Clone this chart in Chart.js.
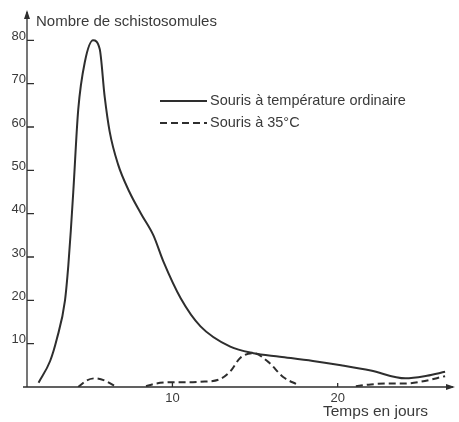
<!DOCTYPE html>
<html>
<head>
<meta charset="utf-8">
<script src="https://cdn.jsdelivr.net/npm/chart.js@4.4.0/dist/chart.umd.min.js"></script>
<style>
    html, body { margin: 0; padding: 0; background: #fff; }
    #wrap { width: 459px; height: 422px; }
</style>
</head>
<body>
<div id="wrap"><canvas id="schistoChart" width="459" height="422"></canvas></div>
<script>
// solid curve: mice kept at ordinary temperature
const normalDays = [1.9, 2.6, 3.0, 3.5, 3.7, 3.85, 4.0, 4.3, 4.7, 5.2, 5.6, 5.9, 6.2, 6.7, 7.4, 8.1, 8.85, 9.45, 10.5, 11.7, 13.5, 14.9, 16.5, 18.5, 20.2, 22.0, 24.1, 25.4, 26.5]
const normalValues = [1, 6, 11, 20, 28, 36, 45, 64, 75, 80, 78, 67, 59, 51.5, 45, 40, 35, 29, 20.5, 14, 9.3, 7.8, 7, 6, 5, 3.8, 2, 2.6, 3.5]
// dashed curve: mice at 35°C (null breaks the line)
const hotDays = [4.3, 4.8, 5.3, 5.9, 6.6, 7.5, 8.4, 9.0, 10.0, 11.0, 11.7, 12.8, 13.5, 14.1, 14.9, 15.8, 16.7, 17.6, 19.5, 21.1, 22.0, 23.0, 24.0, 25.0, 26.5]
const hotValues = [0, 1.5, 2, 1.5, 0, null, 0.2, 0.8, 1.1, 1.1, 1.2, 1.7, 3.6, 6.7, 7.8, 5.8, 2.3, 0.5, null, 0.2, 0.6, 0.8, 0.8, 1.2, 2.5]
//
const yTickValues = [10, 20, 30, 40, 50, 60, 70, 80]
const xTickValues = [10, 20]
const seriesLabels = [`Souris à température ordinaire`, `Souris à 35°C`]
const yTitle = `Nombre de schistosomules`
const xTitle = `Temps en jours`
//
const ink = `#2e2e2e`
const textInk = `#3a3a3a`
const font = `"Liberation Sans", Arial, sans-serif`
const hotDash = [7, 4]

function toPoints(days, values) {
    return days.map((d, i) => ({ x: d, y: values[i] }))
}
//
const sketchAxes = {
    id: `sketchAxes`,
    afterDraw(chart) {
        const { ctx, chartArea } = chart
        const xs = chart.scales.x
        const ys = chart.scales.y
        const x0 = chartArea.left
        const y0 = chartArea.bottom
        ctx.save()
        ctx.strokeStyle = ink
        ctx.fillStyle = ink
        ctx.lineWidth = 1.3
        // axes
        ctx.beginPath()
        ctx.moveTo(x0, y0)
        ctx.lineTo(x0, chartArea.top + 2)
        ctx.moveTo(x0 - 4, y0)
        ctx.lineTo(chartArea.right - 2, y0)
        ctx.stroke()
        // arrow heads
        ctx.beginPath()
        ctx.moveTo(x0, chartArea.top)
        ctx.lineTo(x0 - 3, chartArea.top + 9)
        ctx.lineTo(x0 + 3, chartArea.top + 9)
        ctx.closePath()
        ctx.fill()
        ctx.beginPath()
        ctx.moveTo(chartArea.right, y0)
        ctx.lineTo(chartArea.right - 9, y0 - 3)
        ctx.lineTo(chartArea.right - 9, y0 + 3)
        ctx.closePath()
        ctx.fill()
        // inward ticks
        ctx.beginPath()
        yTickValues.forEach(v => {
            const py = ys.getPixelForValue(v)
            ctx.moveTo(x0, py)
            ctx.lineTo(x0 + 7, py)
        })
        xTickValues.forEach(v => {
            const px = xs.getPixelForValue(v)
            ctx.moveTo(px, y0)
            ctx.lineTo(px, y0 - 4)
        })
        ctx.stroke()
        // titles
        ctx.fillStyle = textInk
        ctx.textBaseline = `middle`
        ctx.textAlign = `left`
        ctx.font = `15px ${font}`
        ctx.fillText(yTitle, x0 + 9, 22)
        ctx.font = `15.5px ${font}`
        ctx.fillText(xTitle, 323, 412)
        // legend
        const lx = 160
        const rows = [101, 123]
        chart.data.datasets.forEach((ds, i) => {
            ctx.strokeStyle = ink
            ctx.lineWidth = 2
            ctx.setLineDash(ds.borderDash || [])
            ctx.beginPath()
            ctx.moveTo(lx, rows[i])
            ctx.lineTo(lx + 47, rows[i])
            ctx.stroke()
            ctx.setLineDash([])
            ctx.font = `14.5px ${font}`
            ctx.fillText(ds.label, lx + 50, rows[i])
        })
        ctx.restore()
    }
}
//
new Chart(`schistoChart`, {
    type: `line`,
    data: {
        datasets: [{
            label: seriesLabels[0],
            data: toPoints(normalDays, normalValues),
            borderColor: ink,
            borderWidth: 2,
            pointRadius: 0,
            cubicInterpolationMode: `monotone`
        }, {
            label: seriesLabels[1],
            data: toPoints(hotDays, hotValues),
            borderColor: ink,
            borderWidth: 2,
            borderDash: hotDash,
            pointRadius: 0,
            spanGaps: false,
            cubicInterpolationMode: `monotone`
        }]
    },
    options: {
        responsive: false,
        animation: false,
        devicePixelRatio: 1,
        layout: { padding: { top: 10, right: 4, left: 0, bottom: 0 } },
        plugins: {
            legend: { display: false },
            tooltip: { enabled: false }
        },
        scales: {
            x: {
                type: `linear`,
                min: 1.2,
                max: 27.1,
                grid: { display: false, drawTicks: false },
                border: { display: false },
                afterBuildTicks: s => { s.ticks = xTickValues.map(v => ({ value: v })) },
                afterFit: s => { s.height = 35 },
                ticks: { color: textInk, font: { family: font, size: 13 }, padding: 4, maxRotation: 0 }
            },
            y: {
                min: 0,
                max: 87,
                grid: { display: false, drawTicks: false },
                border: { display: false },
                afterBuildTicks: s => { s.ticks = yTickValues.map(v => ({ value: v })) },
                afterFit: s => { s.width = 27 },
                ticks: { color: textInk, font: { family: font, size: 13 }, padding: 1, labelOffset: -4 }
            }
        }
    },
    plugins: [sketchAxes]
})
</script>
</body>
</html>
